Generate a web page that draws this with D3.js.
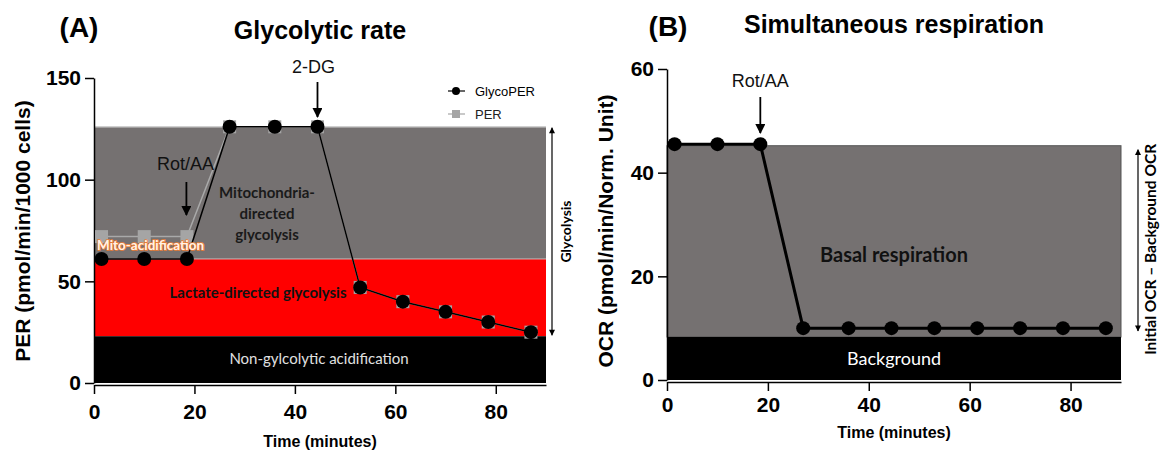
<!DOCTYPE html>
<html>
<head>
<meta charset="utf-8">
<script src="https://cdn.jsdelivr.net/npm/d3@7"></script>
<style>
  body { margin: 0; background: #fff; }
  svg text { font-family: "Liberation Sans", Arial, sans-serif; }
  .cal { font-family: Lato, "Open Sans", sans-serif; }
  .axis text { font-size: 21px; font-weight: bold; }
  .axis path, .axis line { stroke: #000; stroke-width: 1.5px; }
</style>
</head>
<body>
<svg id="chart" width="1161" height="452"></svg>
<script>
// time points (minutes)
var times = [1.5, 10, 18.5, 27, 36, 44.5, 53, 61.5, 70, 78.5, 87];
// panel A
var glycoPER = [61, 61, 61, 126, 126, 126, 47, 40, 35, 30, 25];
var perVals  = [72, 72, 72, 126, 126, 126, 47, 40, 35, 30, 25];
var bandsA = [126, 61, 23]; // tops of grey / red / black bands
var ticksA_y = [0, 50, 100, 150];
// panel B
var ocrVals = [45.5, 45.5, 45.5, 10, 10, 10, 10, 10, 10, 10, 10];
var bandsB = [45.2, 8.3];
var ticksB_y = [0, 20, 40, 60];
var ticksX = [0, 20, 40, 60, 80];

var svg = d3.select("#chart");

// ---------- panel A ----------
var xA = d3.scaleLinear().domain([0, 90]).range([94, 546]);
var yA = d3.scaleLinear().domain([0, 150]).range([383, 78]);
var midA = (xA(0) + xA(90)) / 2;

var gA = svg.append("g");
var bandColA = ["#757171", "#ff0000", "#000000"];
bandsA.forEach(function(top, i) {
  var bottom = i < bandsA.length - 1 ? bandsA[i + 1] : 0;
  gA.append("rect")
    .attr("x", xA(0)).attr("width", xA(90) - xA(0))
    .attr("y", yA(top)).attr("height", yA(bottom) - yA(top))
    .attr("fill", bandColA[i]);
});
// thin light line on top of grey and red
gA.append("line").attr("x1", xA(0)).attr("x2", xA(90))
  .attr("y1", yA(bandsA[0])).attr("y2", yA(bandsA[0]))
  .attr("stroke", "#cfcfcf").attr("stroke-width", 1.5);
gA.append("line").attr("x1", xA(0)).attr("x2", xA(90))
  .attr("y1", yA(bandsA[1])).attr("y2", yA(bandsA[1]))
  .attr("stroke", "#bdbdbd").attr("stroke-width", 1);

gA.append("g").attr("class", "axis")
  .attr("transform", "translate(" + xA(0) + ",0)")
  .call(d3.axisLeft(yA).tickValues(ticksA_y).tickSize(9).tickPadding(4).tickSizeOuter(0));
gA.append("g").attr("class", "axis")
  .attr("transform", "translate(0," + (yA(0) + 2) + ")")
  .call(d3.axisBottom(xA).tickValues(ticksX).tickSize(9).tickPadding(10).tickSizeOuter(0));

// PER (grey squares)
var lineA = d3.line().x(function(d) { return xA(d[0]); }).y(function(d) { return yA(d[1]); });
var perPts = times.map(function(t, i) { return [t, perVals[i]]; });
gA.append("path").attr("d", lineA(perPts)).attr("fill", "none")
  .attr("stroke", "#a9a9a9").attr("stroke-width", 1.5);
gA.selectAll(".sq").data(perPts).enter().append("rect")
  .attr("x", function(d) { return xA(d[0]) - 6.5; })
  .attr("y", function(d) { return yA(d[1]) - 6.5; })
  .attr("width", 13).attr("height", 13).attr("fill", "#a5a5a5");

// GlycoPER (black circles)
var gpPts = times.map(function(t, i) { return [t, glycoPER[i]]; });
gA.append("path").attr("d", lineA(gpPts)).attr("fill", "none")
  .attr("stroke", "#000").attr("stroke-width", 1.5);
gA.selectAll(".dot").data(gpPts).enter().append("circle")
  .attr("cx", function(d) { return xA(d[0]); })
  .attr("cy", function(d) { return yA(d[1]); })
  .attr("r", 7).attr("fill", "#000");

// legend
gA.append("line").attr("x1", 448).attr("x2", 465).attr("y1", 91).attr("y2", 91).attr("stroke", "#000").attr("stroke-width", 1.2);
gA.append("circle").attr("cx", 456).attr("cy", 91).attr("r", 4).attr("fill", "#000");
gA.append("text").attr("x", 475).attr("y", 96).attr("font-size", 13).text("GlycoPER");
gA.append("line").attr("x1", 448).attr("x2", 465).attr("y1", 114).attr("y2", 114).attr("stroke", "#a5a5a5").attr("stroke-width", 1.2);
gA.append("rect").attr("x", 452).attr("y", 110).attr("width", 8).attr("height", 8).attr("fill", "#a5a5a5");
gA.append("text").attr("x", 475).attr("y", 119).attr("font-size", 13).attr("fill", "#222").text("PER");

// arrow marker
var defs = svg.append("defs");
defs.append("marker").attr("id", "ah").attr("viewBox", "0 0 10 10")
  .attr("refX", 9).attr("refY", 5).attr("markerWidth", 10).attr("markerHeight", 10)
  .attr("markerUnits", "userSpaceOnUse").attr("orient", "auto")
  .append("path").attr("d", "M0,0 L10,5 L0,10 z").attr("fill", "#000");
defs.append("marker").attr("id", "sm").attr("viewBox", "0 0 10 10")
  .attr("refX", 9).attr("refY", 5).attr("markerWidth", 7).attr("markerHeight", 6)
  .attr("markerUnits", "userSpaceOnUse").attr("orient", "auto-start-reverse")
  .append("path").attr("d", "M0,0 L10,5 L0,10 z").attr("fill", "#000");

function drugArrow(g, x, y1, y2, label, ly, lx) {
  g.append("line").attr("x1", x).attr("x2", x).attr("y1", y1).attr("y2", y2)
    .attr("stroke", "#000").attr("stroke-width", 1.8).attr("marker-end", "url(#ah)");
  g.append("text").attr("x", lx == null ? x : lx).attr("y", ly).attr("text-anchor", "middle")
    .attr("font-size", 18).attr("fill", "#111").text(label);
}
drugArrow(gA, xA(44.5), 82, 117, "2-DG", 73, xA(44.5) - 4);
drugArrow(gA, xA(18.4), 182, 215, "Rot/AA", 170, xA(18.4) - 1);

// side double arrow + label
gA.append("line").attr("x1", 552).attr("x2", 552).attr("y1", yA(bandsA[0]) + 1).attr("y2", yA(23) - 1)
  .attr("stroke", "#000").attr("stroke-width", 1.2)
  .attr("marker-start", "url(#sm)").attr("marker-end", "url(#sm)");
gA.append("text").attr("class", "cal").attr("transform", "translate(571," + ((yA(126) + yA(23)) / 2) + ") rotate(-90)")
  .attr("text-anchor", "middle").attr("font-size", 14).attr("font-weight", "bold").text("Glycolysis");

// band labels
var mito = gA.append("text").attr("class", "cal").attr("text-anchor", "middle")
  .attr("font-size", 15).attr("font-weight", "bold").attr("fill", "#1a1a1a");
["Mitochondria-", "directed", "glycolysis"].forEach(function(s, i) {
  mito.append("tspan").attr("x", 267).attr("y", 198 + i * 21).text(s);
});
gA.append("text").attr("class", "cal").attr("x", 97).attr("y", 250)
  .attr("font-size", 13.5).attr("font-weight", "bold")
  .attr("fill", "#fff3e8").attr("stroke", "#ed7d31").attr("stroke-width", 1.6)
  .attr("paint-order", "stroke").text("Mito-acidification");
gA.append("text").attr("class", "cal").attr("x", 258).attr("y", 298).attr("text-anchor", "middle")
  .attr("font-size", 15).attr("font-weight", "bold").attr("fill", "#111").text("Lactate-directed glycolysis");
gA.append("text").attr("class", "cal").attr("x", 319).attr("y", 364).attr("text-anchor", "middle")
  .attr("font-size", 15).attr("fill", "#e0e0e0").text("Non-gylcolytic acidification");

// titles & axis labels
gA.append("text").attr("x", 79).attr("y", 37).attr("text-anchor", "middle")
  .attr("font-size", 28).attr("font-weight", "bold").text("(A)");
gA.append("text").attr("x", midA).attr("y", 39).attr("text-anchor", "middle")
  .attr("font-size", 25).attr("font-weight", "bold").text("Glycolytic rate");
gA.append("text").attr("x", midA).attr("y", 447).attr("text-anchor", "middle")
  .attr("font-size", 16).attr("font-weight", "bold").text("Time (minutes)");
gA.append("text").attr("transform", "translate(30,231) rotate(-90)").attr("text-anchor", "middle")
  .attr("font-size", 21).attr("font-weight", "bold").text("PER (pmol/min/1000 cells)");

// ---------- panel B ----------
var xB = d3.scaleLinear().domain([0, 90]).range([667, 1121]);
var yB = d3.scaleLinear().domain([0, 60]).range([380, 69]);
var midB = (xB(0) + xB(90)) / 2;
var gB = svg.append("g");

gB.append("rect").attr("x", xB(0)).attr("width", xB(90) - xB(0))
  .attr("y", yB(bandsB[0])).attr("height", yB(bandsB[1]) - yB(bandsB[0]))
  .attr("fill", "#757171").attr("stroke", "#555").attr("stroke-width", 1);
gB.append("rect").attr("x", xB(0)).attr("width", xB(90) - xB(0))
  .attr("y", yB(bandsB[1])).attr("height", yB(0) - yB(bandsB[1]))
  .attr("fill", "#000");

gB.append("g").attr("class", "axis")
  .attr("transform", "translate(" + xB(0) + ",0)")
  .call(d3.axisLeft(yB).tickValues(ticksB_y).tickSize(9).tickPadding(4).tickSizeOuter(0));
gB.append("g").attr("class", "axis")
  .attr("transform", "translate(0," + (yB(0) + 2) + ")")
  .call(d3.axisBottom(xB).tickValues(ticksX).tickSize(9).tickPadding(6).tickSizeOuter(0));

var lineB = d3.line().x(function(d) { return xB(d[0]); }).y(function(d) { return yB(d[1]); });
var ocrPts = times.map(function(t, i) { return [t, ocrVals[i]]; });
gB.append("path").attr("d", lineB(ocrPts)).attr("fill", "none")
  .attr("stroke", "#000").attr("stroke-width", 3);
gB.selectAll(".dot").data(ocrPts).enter().append("circle")
  .attr("cx", function(d) { return xB(d[0]); })
  .attr("cy", function(d) { return yB(d[1]); })
  .attr("r", 7).attr("fill", "#000");

drugArrow(gB, xB(18.5), 97, 133, "Rot/AA", 87);

gB.append("line").attr("x1", 1138).attr("x2", 1138).attr("y1", yB(bandsB[0]) + 4).attr("y2", yB(bandsB[1]) - 6)
  .attr("stroke", "#000").attr("stroke-width", 1.2)
  .attr("marker-start", "url(#sm)").attr("marker-end", "url(#sm)");
gB.append("text").attr("class", "cal").attr("transform", "translate(1156," + ((yB(bandsB[0]) + yB(bandsB[1])) / 2 + 8) + ") rotate(-90)")
  .attr("text-anchor", "middle").attr("font-size", 15.5).attr("font-weight", "bold").text("Initial OCR \u2013 Background OCR");

gB.append("text").attr("class", "cal").attr("x", midB).attr("y", 262).attr("text-anchor", "middle")
  .attr("font-size", 20).attr("font-weight", "bold").attr("fill", "#111").text("Basal respiration");
gB.append("text").attr("class", "cal").attr("x", midB).attr("y", 365).attr("text-anchor", "middle")
  .attr("font-size", 18).attr("fill", "#fff").text("Background");

gB.append("text").attr("x", 668).attr("y", 36).attr("text-anchor", "middle")
  .attr("font-size", 28).attr("font-weight", "bold").text("(B)");
gB.append("text").attr("x", midB).attr("y", 33).attr("text-anchor", "middle")
  .attr("font-size", 25).attr("font-weight", "bold").text("Simultaneous respiration");
gB.append("text").attr("x", midB).attr("y", 438).attr("text-anchor", "middle")
  .attr("font-size", 16).attr("font-weight", "bold").text("Time (minutes)");
gB.append("text").attr("transform", "translate(613,231) rotate(-90)").attr("text-anchor", "middle")
  .attr("font-size", 21).attr("font-weight", "bold").text("OCR (pmol/min/Norm. Unit)");
</script>
</body>
</html>
